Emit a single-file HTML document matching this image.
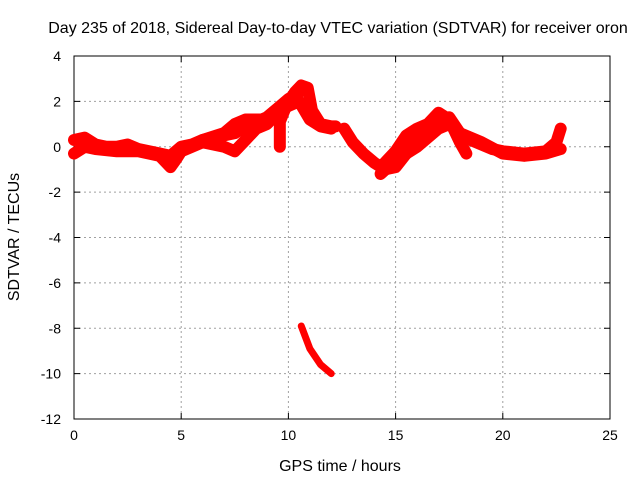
<!DOCTYPE html>
<html><head><meta charset="utf-8"><style>
body{margin:0;background:#fff}
svg text{font-family:"Liberation Sans",sans-serif;font-size:14px;fill:#000}
svg text.big{font-size:16px}
</style></head><body>
<svg id="c" width="640" height="480"></svg>
<script>
const xTicks=[0,5,10,15,20,25];
const yTicks=[4,2,0,-2,-4,-6,-8,-10,-12];
const trackA_t=[0,0.5,1,1.5,2,2.5,3,3.5,4,4.5,5,5.5,6,6.5,7,7.5,8,8.5,9,9.5,10,10.5];
const trackA_v=[0.3,0.4,0.1,0,0,0.1,-0.1,-0.2,-0.3,-0.4,0,0.1,0.3,0.4,0.5,0.6,0.9,1.1,1.3,1.7,2.1,2.4];
const trackB_t=[0,0.5,1,2,3,4,4.5,4.8,5,6,7,7.5,8,8.5,9,9.5];
const trackB_v=[-0.3,0,-0.1,-0.2,-0.2,-0.4,-0.9,-0.5,-0.2,0.2,0,-0.2,0.3,0.8,1,1.5];
const trackC_t=[6,7,7.5,8,9,9.5,10,10.5,11,11.5,12];
const trackC_v=[0.3,0.6,1,1.2,1.2,1.5,1.8,2,1.2,0.9,0.8];
const trackD_t=[9.6,9.6,9.9,10.3,10.6,10.9,11.1,11.5,12,12.2];
const trackD_v=[0,1.1,1.8,2.4,2.7,2.6,1.6,1,0.9,0.9];
const trackE_t=[12.6,13,13.5,14,14.5,15,15.5,16,16.5,17,17.5,18,18.5,19,19.5,20,21,22,22.5,22.7];
const trackE_v=[0.8,0.2,-0.3,-0.7,-1,-0.9,-0.3,0.3,0.8,1.1,1.3,0.6,0.3,0.1,-0.1,-0.2,-0.3,-0.2,0.2,0.8];
const trackF_t=[14.5,15,15.5,16,16.5,17,17.5,18,18.3];
const trackF_v=[-0.7,-0.2,0.5,0.8,1,1.5,1.2,0.2,-0.3];
const trackG_t=[14.3,15,16,17,17.5,18,19,20,21,22,22.7];
const trackG_v=[-1.2,-0.6,0,0.8,1,0.6,0.2,-0.3,-0.4,-0.3,-0.1];
const trackH_t=[10.6,11,11.5,12];
const trackH_v=[-7.9,-8.9,-9.6,-10];
const tracks=[[trackA_t,trackA_v],[trackB_t,trackB_v],[trackC_t,trackC_v],[trackD_t,trackD_v],[trackE_t,trackE_v],[trackF_t,trackF_v],[trackG_t,trackG_v],[trackH_t,trackH_v]];
const L=74,R=610,T=56,B=419;
const X=t=>L+(t-0)/25*(R-L);
const Y=v=>T+(4-v)/16*(B-T);
const svg=document.getElementById('c');
const NS='http://www.w3.org/2000/svg';
function mk(tag,a,parent){const e=document.createElementNS(NS,tag);for(const k in a)e.setAttribute(k,a[k]);(parent||svg).appendChild(e);return e;}
xTicks.forEach(t=>{
 if(t>0&&t<25){const g=mk('line',{x1:X(t),x2:X(t),y1:T,y2:B,stroke:'#a0a0a0','stroke-dasharray':'2,3'});
 
 }
 mk('line',{x1:X(t),x2:X(t),y1:B,y2:B-6,stroke:'#000'});
 mk('line',{x1:X(t),x2:X(t),y1:T,y2:T+6,stroke:'#000'});
 const tx=mk('text',{x:X(t),y:B+21,'text-anchor':'middle'});tx.textContent=t;
 
 
});
yTicks.forEach(v=>{
 if(v<4&&v>-12){const g=mk('line',{x1:L,x2:R,y1:Y(v),y2:Y(v),stroke:'#a0a0a0','stroke-dasharray':'2,3'});
 
 }
 mk('line',{x1:L,x2:L+6,y1:Y(v),y2:Y(v),stroke:'#000'});
 mk('line',{x1:R,x2:R-6,y1:Y(v),y2:Y(v),stroke:'#000'});
 const tx=mk('text',{x:L-13,y:Y(v)+5,'text-anchor':'end'});tx.textContent=v;
 
 
});
const fr=mk('rect',{x:L,y:T,width:R-L,height:B-T,fill:'none',stroke:'#000'});


tracks.forEach((tr,i)=>{
 const pts=tr[0].map((t,j)=>X(t)+','+Y(tr[1][j])).join(' ');
 const p=mk('polyline',{points:pts,fill:'none',stroke:'#ff0000','stroke-width':i==7?7:12,'stroke-linejoin':'round','stroke-linecap':'round'});
 
 
});
const ti=mk('text',{x:338,y:33,'text-anchor':'middle','class':'big'});ti.textContent='Day 235 of 2018, Sidereal Day-to-day VTEC variation (SDTVAR) for receiver oron';


const xl=mk('text',{x:340,y:471,'text-anchor':'middle','class':'big'});xl.textContent='GPS time / hours';


const yl=mk('text',{x:19,y:237,'text-anchor':'middle','class':'big',transform:'rotate(-90 19 237)'});yl.textContent='SDTVAR / TECUs';


</script>
</body></html>
